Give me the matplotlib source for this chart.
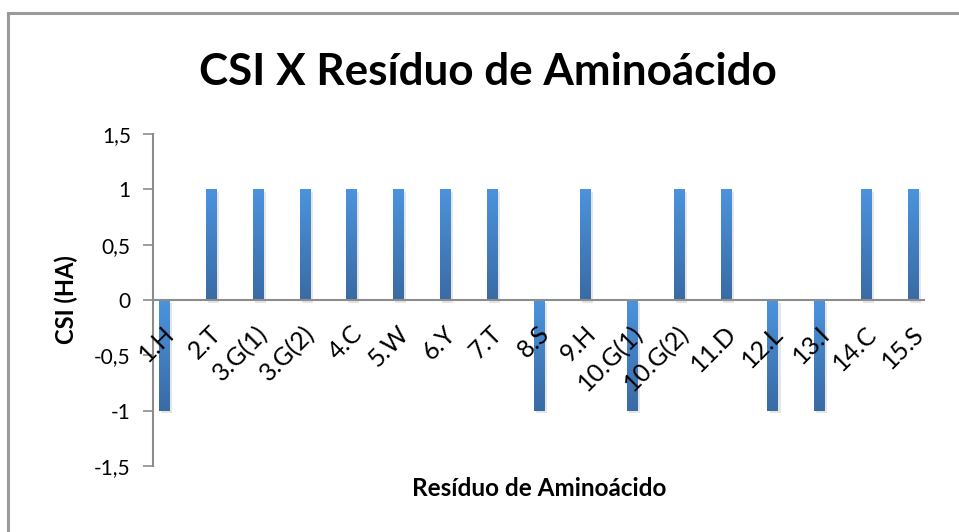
import numpy as np
import matplotlib
matplotlib.use("Agg")
import matplotlib.pyplot as plt
from matplotlib import patheffects
from matplotlib.lines import Line2D
from matplotlib.ticker import FuncFormatter

# --- dados ---
residuos = ["1.H", "2.T", "3.G(1)", "3.G(2)", "4.C", "5.W", "6.Y", "7.T", "8.S",
            "9.H", "10.G(1)", "10.G(2)", "11.D", "12.L", "13.I", "14.C", "15.S"]
csi_ha = [-1, 1, 1, 1, 1, 1, 1, 1, -1, 1, -1, 1, 1, -1, -1, 1, 1]

plt.rcParams["font.family"] = ["Lato", "DejaVu Sans"]

W, H = 959, 532
fig = plt.figure(figsize=(W / 100, H / 100), dpi=100)
ax = fig.add_axes([153 / W, (H - 466) / H, (925 - 153) / W, (466 - 134) / H])

# moldura do gráfico (só topo e esquerda aparecem)
cinza = "#8c8c8c"
fig.add_artist(Line2D([8 / W, 8 / W], [0, (H - 13) / H], color="#9a9a9a", lw=2.2, transform=fig.transFigure))
fig.add_artist(Line2D([8 / W, 1], [(H - 13) / H, (H - 13) / H], color="#9a9a9a", lw=2.2, transform=fig.transFigure))

x = np.arange(len(residuos))
largura = 0.235
barras = ax.bar(x, csi_ha, width=largura, color="#4680c2", zorder=2)

# gradiente vertical em cada barra + sombra leve
grad = np.linspace(0, 1, 100).reshape(-1, 1)
cmap = matplotlib.colors.LinearSegmentedColormap.from_list("azul", ["#4b93dd", "#3a6ba4"])
for b in barras:
    b.set_path_effects([patheffects.SimplePatchShadow(offset=(1.5, -2), shadow_rgbFace="#000000", alpha=0.1),
                        patheffects.Normal()])
    x0, y0 = b.get_x(), b.get_y()
    bw, bh = b.get_width(), b.get_height()
    ytop, ybot = max(y0, y0 + bh), min(y0, y0 + bh)
    im = ax.imshow(grad, cmap=cmap, aspect="auto", extent=[x0, x0 + bw, ybot, ytop],
                   origin="upper", zorder=3, interpolation="bilinear")
    im.set_clip_path(b)

ax.set_xlim(-0.25, len(residuos) - 0.75)
ax.set_ylim(-1.5, 1.5)
ax.set_yticks(np.arange(-1.5, 1.51, 0.5))
ax.yaxis.set_major_formatter(FuncFormatter(lambda v, p: f"{v:g}".replace(".", ",")))
ax.tick_params(axis="y", direction="out", length=7, width=1.2, color=cinza, labelsize=15, pad=9)
ax.set_xticks([])

for s in ["top", "right", "bottom"]:
    ax.spines[s].set_visible(False)
ax.spines["left"].set_color(cinza)
ax.spines["left"].set_linewidth(1.5)
ax.axhline(0, color=cinza, lw=1.5, zorder=4)

# rótulos das categorias inclinados junto à linha do zero
for xi, rot in zip(x, residuos):
    ax.annotate(rot, xy=(xi, 0), xytext=(4.5, -21.5), textcoords="offset points",
                rotation=45, rotation_mode="anchor", ha="right", va="center",
                fontsize=18, zorder=5)

fig.text(0.5 * (153 + 925) / W, (H - 489) / H, "Resíduo de Aminoácido",
         ha="center", va="center", fontsize=17.5, fontweight="bold")
fig.text(66 / W, (H - 300) / H, "CSI (HA)", rotation=90,
         ha="center", va="center", fontsize=17, fontweight="bold")
fig.text(488 / W, (H - 72) / H, "CSI X Resíduo de Aminoácido",
         ha="center", va="center", fontsize=31.7, fontweight="bold")

fig.savefig("out.png", dpi=100)
